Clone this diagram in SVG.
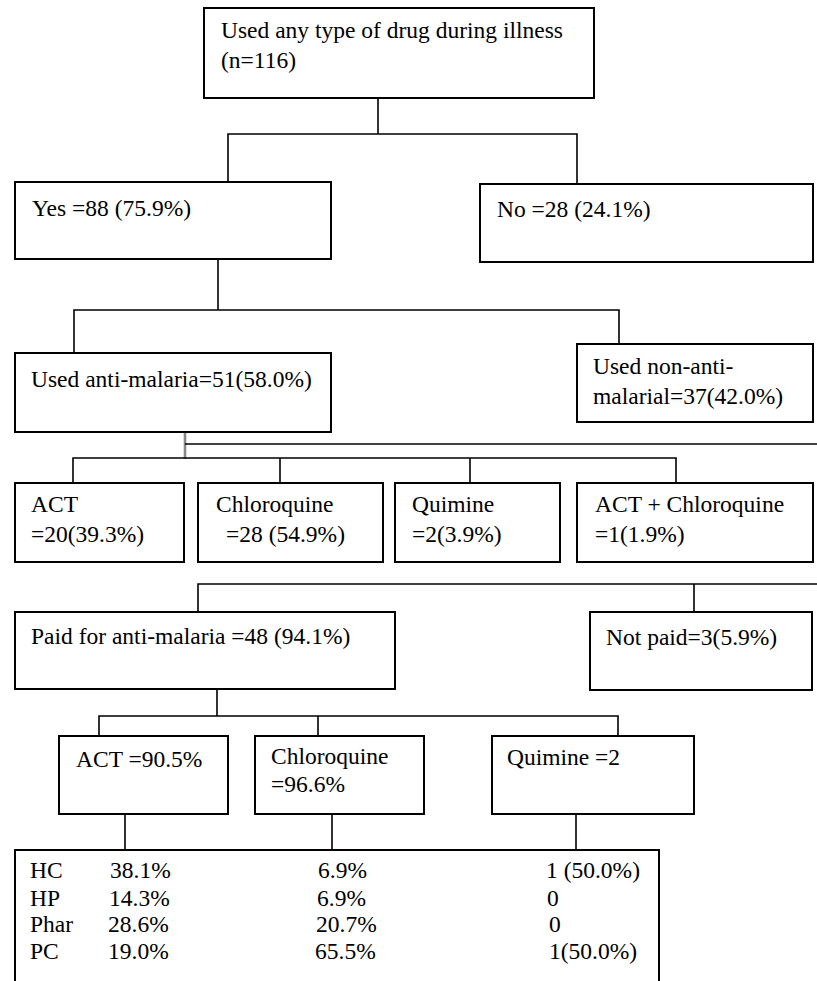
<svg xmlns="http://www.w3.org/2000/svg" width="817" height="981" viewBox="0 0 817 981">
<style>
text{font-family:"Liberation Serif","Times New Roman",serif;font-size:23.5px;fill:#000}
.box{fill:#fff;stroke:#000;stroke-width:2}
.c{fill:none;stroke:#000;stroke-width:1.6}
.g{fill:none;stroke:#888;stroke-width:2.6}
</style>
<rect width="817" height="981" fill="#fff"/>
<g id="connectors">
<path class="c" d="M378 98V134M228 182V134H577V184"/>
<path class="c" d="M218 259V310M74 353V310H619V344"/>
<path class="g" d="M185 432V459"/>
<path class="c" d="M185 444H817"/>
<path class="c" d="M73 483V458H676V483M280 458V483M470 458V483"/>
<path class="c" d="M198 612V584H817M694 584V612"/>
<path class="c" d="M217 689V716M99 736V716H618V736M318 716V736"/>
<path class="c" d="M125 814V850M332 814V850M576 814V850"/>
</g>
<g id="n-root"><rect class="box" x="204" y="8" width="390" height="90"/><text x="221" y="38">Used any type of drug during illness</text><text x="221" y="68">(n=116)</text></g>
<g id="n-yes"><rect class="box" x="15" y="182" width="316" height="77"/><text x="32" y="216">Yes =88 (75.9%)</text></g>
<g id="n-no"><rect class="box" x="480" y="184" width="333" height="78"/><text x="497" y="217">No =28 (24.1%)</text></g>
<g id="n-anti"><rect class="box" x="15" y="353" width="316" height="79"/><text x="31" y="387">Used anti-malaria=51(58.0%)</text></g>
<g id="n-nonanti"><rect class="box" x="577" y="344" width="236" height="78"/><text x="593" y="374">Used non-anti-</text><text x="593" y="404">malarial=37(42.0%)</text></g>
<g id="n-act"><rect class="box" x="15" y="483" width="169" height="79"/><text x="31" y="512">ACT</text><text x="31" y="542">=20(39.3%)</text></g>
<g id="n-chl"><rect class="box" x="198" y="483" width="185" height="79"/><text x="216" y="512">Chloroquine</text><text x="226" y="542">=28 (54.9%)</text></g>
<g id="n-qui"><rect class="box" x="395" y="483" width="165" height="79"/><text x="412" y="512">Quimine</text><text x="412" y="542">=2(3.9%)</text></g>
<g id="n-actchl"><rect class="box" x="577" y="483" width="236" height="79"/><text x="595" y="512">ACT + Chloroquine</text><text x="595" y="542">=1(1.9%)</text></g>
<g id="n-paid"><rect class="box" x="15" y="612" width="380" height="77"/><text x="31" y="644">Paid for anti-malaria =48 (94.1%)</text></g>
<g id="n-notpaid"><rect class="box" x="590" y="612" width="222" height="78"/><text x="606" y="645">Not paid=3(5.9%)</text></g>
<g id="n-act2"><rect class="box" x="59" y="736" width="169" height="78"/><text x="76" y="767">ACT =90.5%</text></g>
<g id="n-chl2"><rect class="box" x="255" y="736" width="169" height="78"/><text x="271" y="764">Chloroquine</text><text x="271" y="792">=96.6%</text></g>
<g id="n-qui2"><rect class="box" x="492" y="736" width="202" height="78"/><text x="507" y="765">Quimine =2</text></g>
<g id="n-table"><rect class="box" x="15" y="850" width="644" height="145"/>
<text x="30" y="878">HC</text><text x="30" y="906">HP</text><text x="30" y="932">Phar</text><text x="30" y="959">PC</text>
<text x="110" y="878">38.1%</text><text x="109" y="906">14.3%</text><text x="108" y="932">28.6%</text><text x="108" y="959">19.0%</text>
<text x="318" y="878">6.9%</text><text x="317" y="906">6.9%</text><text x="316" y="932">20.7%</text><text x="315" y="959">65.5%</text>
<text x="546" y="878">1 (50.0%)</text><text x="547" y="906">0</text><text x="549" y="932">0</text><text x="549" y="959">1(50.0%)</text>
</g>
</svg>
